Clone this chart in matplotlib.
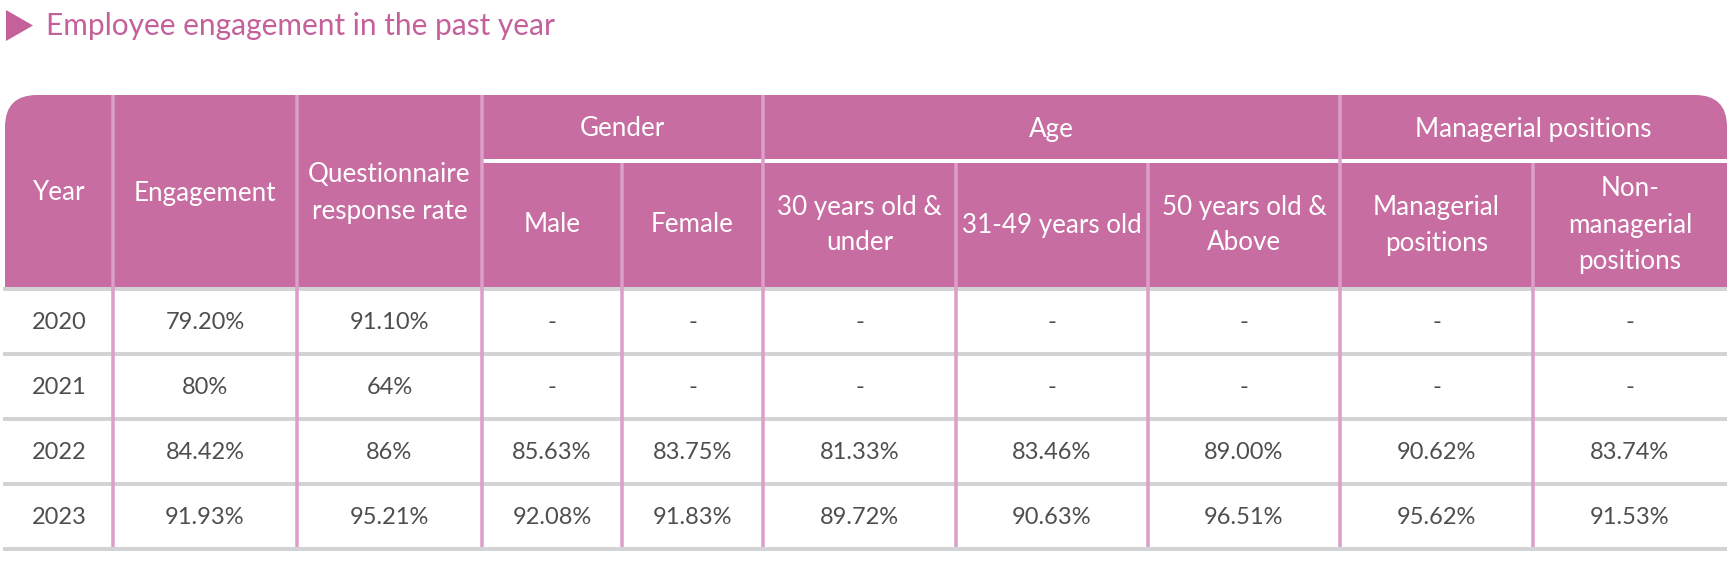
import matplotlib
matplotlib.use("Agg")
import matplotlib.pyplot as plt
from matplotlib.patches import FancyBboxPatch, Rectangle, Polygon

# ---------------- data ----------------
title = "Employee engagement in the past year"
years = ["2020", "2021", "2022", "2023"]
engagement = ["79.20%", "80%", "84.42%", "91.93%"]
response_rate = ["91.10%", "64%", "86%", "95.21%"]
male = ["-", "-", "85.63%", "92.08%"]
female = ["-", "-", "83.75%", "91.83%"]
age_30_under = ["-", "-", "81.33%", "89.72%"]
age_31_49 = ["-", "-", "83.46%", "90.63%"]
age_50_above = ["-", "-", "89.00%", "96.51%"]
managerial = ["-", "-", "90.62%", "95.62%"]
non_managerial = ["-", "-", "83.74%", "91.53%"]

top_headers = ["Year", "Engagement", "Questionnaire\nresponse rate"]
group_headers = ["Gender", "Age", "Managerial positions"]
group_spans = [2, 3, 2]
sub_headers = ["Male", "Female", "30 years old &\nunder", "31-49 years old",
               "50 years old &\nAbove", "Managerial\npositions", "Non-\nmanagerial\npositions"]

columns = [years, engagement, response_rate, male, female, age_30_under,
           age_31_49, age_50_above, managerial, non_managerial]

# ---------------- style / layout ----------------
W, H = 1731, 562
HEADER_FILL = "#C76DA1"
SEP = "#DC9FC8"
GRAY = "#D3D3D5"
TITLE_C = "#C4609A"
TEXT_C = "#4E4E4E"
FONT = "Lato"

col_edges = [5, 113, 297, 482, 622, 763, 956, 1148, 1340, 1533, 1727]
head_top, group_line, head_bot = 95, 161, 287
row_h = 65
first_line = 289

px = 0.72  # points per pixel at dpi 100

fig = plt.figure(figsize=(W / 100, H / 100), dpi=100)
ax = fig.add_axes([0, 0, 1, 1])
ax.set_xlim(0, W)
ax.set_ylim(H, 0)
ax.axis("off")

# title
ax.add_patch(Polygon([(6, 10), (6, 41), (33, 25.5)], closed=True, color=TITLE_C, lw=0))
ax.text(46, 35, title, color=TITLE_C, fontsize=21.5, family=FONT, va="baseline", ha="left")

# header background with rounded top corners
r = 32
x0, x1 = col_edges[0], col_edges[-1]
ax.add_patch(FancyBboxPatch((x0 + r, head_top + r), (x1 - x0) - 2 * r, (head_bot - head_top) - 2 * r,
                            boxstyle=f"round,pad={r}", fc=HEADER_FILL, ec="none", lw=0,
                            mutation_aspect=1))
ax.add_patch(Rectangle((x0, head_top + r + 2), x1 - x0, head_bot - head_top - r - 2,
                       fc=HEADER_FILL, ec="none", lw=0))

# group white line
ax.plot([col_edges[3], x1], [group_line, group_line], color="white", lw=4 * px,
        solid_capstyle="butt")

# gray horizontal lines
n_rows = len(years)
line_ys = [first_line + k * row_h for k in range(n_rows + 1)]
for y in line_ys:
    ax.plot([x0 - 2, x1], [y, y], color=GRAY, lw=4 * px, solid_capstyle="butt")

# vertical separators
full_seps = [1, 2, 3, 5, 8]
sub_seps = [4, 6, 7, 9]
for i in full_seps:
    ax.plot([col_edges[i]] * 2, [head_top, line_ys[-1] - 2], color=SEP, lw=3.5 * px,
            solid_capstyle="butt")
for i in sub_seps:
    ax.plot([col_edges[i]] * 2, [group_line + 2, line_ys[-1] - 2], color=SEP, lw=3.5 * px,
            solid_capstyle="butt")

hfs = 18.7
LS = 1.55
# top headers (merged rows)
for i, t in enumerate(top_headers):
    cx = (col_edges[i] + col_edges[i + 1]) / 2
    ax.text(cx, (head_top + head_bot) / 2 + 2, t, color="white", fontsize=hfs, family=FONT,
            ha="center", va="center", linespacing=LS)

# group headers
ci = 3
for g, span in zip(group_headers, group_spans):
    cx = (col_edges[ci] + col_edges[ci + span]) / 2
    ax.text(cx, (head_top + group_line) / 2 + 1, g, color="white", fontsize=hfs, family=FONT,
            ha="center", va="center")
    ci += span

# sub headers
for j, t in enumerate(sub_headers):
    i = 3 + j
    cx = (col_edges[i] + col_edges[i + 1]) / 2
    ax.text(cx, (group_line + head_bot) / 2 + 1, t, color="white", fontsize=hfs, family=FONT,
            ha="center", va="center", linespacing=LS)

# body
for i, col in enumerate(columns):
    cx = (col_edges[i] + col_edges[i + 1]) / 2
    for k, v in enumerate(col):
        cy = (line_ys[k] + line_ys[k + 1]) / 2 + 1
        ax.text(cx, cy, v, color=TEXT_C, fontsize=17, family=FONT, fontweight="normal",
                ha="center", va="center")

fig.savefig("out.png", dpi=100, facecolor="white")
